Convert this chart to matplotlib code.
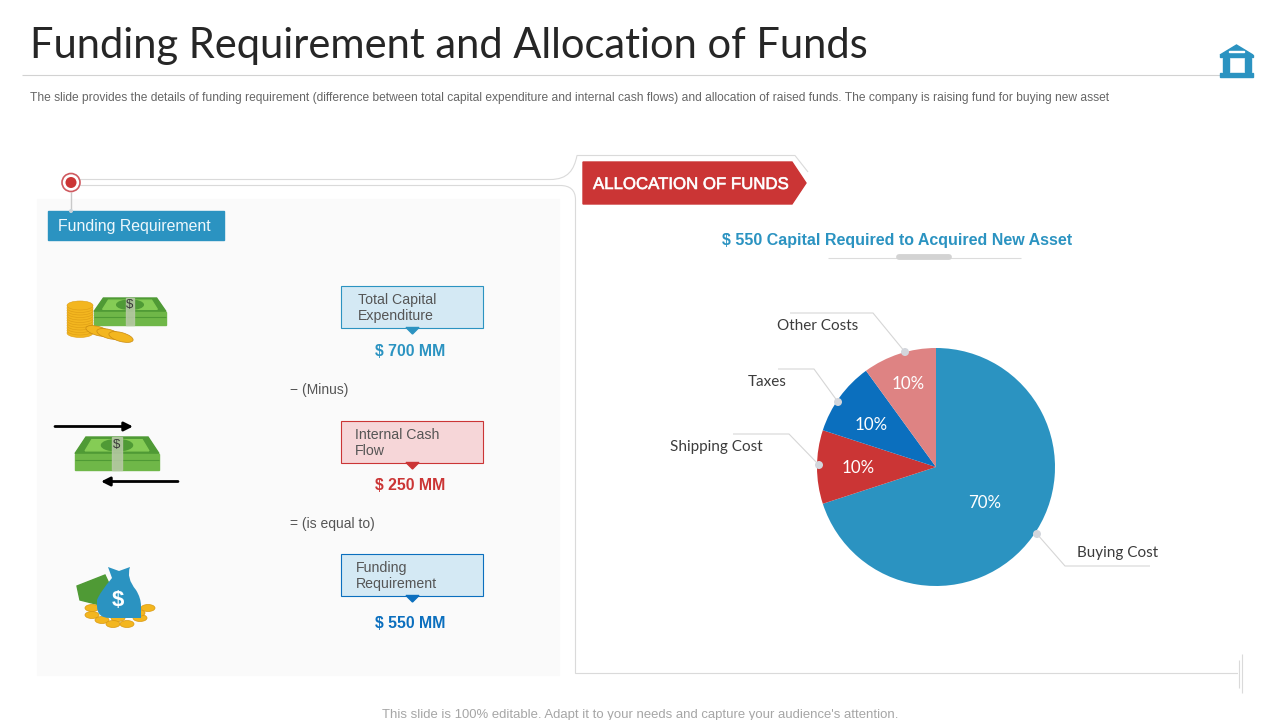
import numpy as np
import matplotlib
matplotlib.use('Agg')
import matplotlib.pyplot as plt
import matplotlib.patheffects as pe
from matplotlib.patches import Rectangle, Polygon, Circle, Ellipse, PathPatch
from matplotlib.path import Path

# data
slice_names = ['Buying Cost', 'Shipping Cost', 'Taxes', 'Other Costs']
slice_values = [70, 10, 10, 10]
slice_colors = ['#2b93c1', '#cb3535', '#0b6fbe', '#de8383']
box_labels = ['Total Capital\nExpenditure', 'Internal Cash\nFlow', 'Funding\nRequirement']
box_amounts = ['$ 700 MM', '$ 250 MM', '$ 550 MM']
operators = ['− (Minus)', '= (is equal to)']

BLUE = '#2b93c1'
RED = '#cb3535'
GRAY = '#dadada'
ARIAL = 'Liberation Sans'
LATO = 'Lato'

fig = plt.figure(figsize=(12.8, 7.2), dpi=100, facecolor='white')

# pie in its own axes, centre 936,467 radius 119 px
pie_ax = fig.add_axes([(936 - 119) / 1280, (720 - 467 - 119) / 720, 238 / 1280, 238 / 720], zorder=1)
wedges, _, pcts = pie_ax.pie(slice_values, colors=slice_colors, startangle=90, counterclock=False,
                             radius=1, autopct='%d%%', pctdistance=0.5,
                             wedgeprops={'linewidth': 0},
                             textprops={'color': 'white', 'fontsize': 12.2, 'family': LATO})
pie_ax.set_xlim(-1, 1)
pie_ax.set_ylim(-1, 1)
# small slices have their labels further out
for t, k, dy in zip(pcts, [1.0, 1.31, 1.34, 1.5], [-0.01, -0.01, -0.04, -0.02]):
    x, y = t.get_position()
    t.set_position((x * k, y * k + dy))

# overlay in pixel coords
ax = fig.add_axes([0, 0, 1, 1], zorder=2)
ax.set_xlim(0, 1280)
ax.set_ylim(720, 0)
ax.axis('off')
ax.patch.set_visible(False)


def line(xs, ys, c=GRAY, lw=0.8, z=2):
    ax.plot(xs, ys, color=c, lw=lw, zorder=z, solid_capstyle='butt')


# header
ax.text(30, 46, 'Funding Requirement and Allocation of Funds', fontsize=30, family=LATO,
        color='#262626', va='center', ha='left')
line([22, 1220], [75, 75], c='#d2d2d2')
ax.text(30, 98, 'The slide provides the details of funding requirement (difference between total capital '
        'expenditure and internal cash flows) and allocation of raised funds. The company is raising fund '
        'for buying new asset', fontsize=8.67, family=ARIAL, color='#666666', va='center')

# bank icon
ax.add_patch(Polygon([[1220, 55], [1236.5, 45], [1253, 55]], color=BLUE, zorder=3))
ax.add_patch(Rectangle((1220, 55), 33, 1.5, color=BLUE, zorder=3))
ax.add_patch(Rectangle((1229, 50.5), 15, 1.3, color='white', zorder=4))
ax.add_patch(Rectangle((1223, 58), 5.5, 14, color=BLUE, zorder=3))
ax.add_patch(Rectangle((1245, 58), 5.5, 14, color=BLUE, zorder=3))
ax.add_patch(Rectangle((1220, 73), 33, 4, color=BLUE, zorder=3))

# left panel
ax.add_patch(Rectangle((37, 199), 522, 476, color='#fafafa', zorder=0))

# connector lines
connector = Path([(78, 179.5), (550, 179.5), (568, 179.5), (574, 170), (577, 155.5), (795, 155.5), (808, 172)],
                 [Path.MOVETO, Path.LINETO, Path.CURVE4, Path.CURVE4, Path.CURVE4, Path.LINETO, Path.LINETO])
ax.add_patch(PathPatch(connector, fc='none', ec=GRAY, lw=0.8, zorder=1))
lower = Path([(78, 185.5), (560, 185.5), (570, 185.5), (575.5, 190), (575.5, 200), (575.5, 673.5), (1238, 673.5)],
             [Path.MOVETO, Path.LINETO, Path.CURVE4, Path.CURVE4, Path.CURVE4, Path.LINETO, Path.LINETO])
ax.add_patch(PathPatch(lower, fc='none', ec=GRAY, lw=0.8, zorder=1))
line([1238.5, 1238.5], [660, 688])
line([1242, 1242], [654, 693])

# red target marker
ax.add_patch(Circle((71, 182.5), 9, fc='white', ec='#cf5a60', lw=1.2, zorder=3))
ax.add_patch(Circle((71, 182.5), 5.5, fc=RED, ec='none', zorder=4))
line([71, 71], [192, 211], c='#c9c9c9', lw=1)
ax.add_patch(Circle((71, 211), 2, fc='#c9d3da', ec='none', zorder=4))

# heading tags
ax.add_patch(Rectangle((48, 211), 176, 29, color=BLUE, zorder=3))
ax.text(58, 227, 'Funding Requirement', fontsize=11.4, family=ARIAL, color='#eef8fc', va='center', zorder=4)
ax.add_patch(Polygon([[583, 162], [792, 162], [806, 183], [792, 204], [583, 204]], color=RED, zorder=3))
ax.text(593, 184.5, 'ALLOCATION OF FUNDS', fontsize=12.1, family=ARIAL, color='white', va='center', zorder=4,
        path_effects=[pe.withStroke(linewidth=0.5, foreground='#f3e3e3')])

# subtitle on right
ax.text(897.5, 240, '$ 550 Capital Required to Acquired New Asset', fontsize=11.55, family=ARIAL,
        fontweight='bold', color=BLUE, ha='center', va='center')
line([828, 1021], [257.5, 257.5], c='#dcdcdc')
ax.plot([899, 949], [257, 257], color='#d3d3d3', lw=4.2, solid_capstyle='round', zorder=3)

# value boxes
box_y = [286, 421, 554]
box_fc = ['#d4e9f4', '#f6d6d8', '#d4e9f4']
box_ec = [BLUE, RED, '#0b6fbe']
text_x = [358, 355, 356]
amount_y = [352, 486, 623]
amount_c = [BLUE, RED, '#0b6fbe']
for i in range(3):
    y = box_y[i]
    ax.add_patch(Rectangle((341, y), 142, 41.5, fc=box_fc[i], ec=box_ec[i], lw=0.8, zorder=3))
    ax.add_patch(Polygon([[406, y + 41.5], [419, y + 41.5], [412.5, y + 48]], color=box_ec[i], zorder=4))
    ax.text(text_x[i], y + 22, box_labels[i], fontsize=10.2, family=ARIAL, color='#555555',
            va='center', linespacing=1.27, zorder=4)
    ax.text(410.5, amount_y[i], box_amounts[i], fontsize=11.4, family=ARIAL, fontweight='bold',
            color=amount_c[i], ha='center', va='center')
ax.text(290, 390, operators[0], fontsize=10, family=ARIAL, color='#555555', va='center')
ax.text(290, 524, operators[1], fontsize=10, family=ARIAL, color='#555555', va='center')


# money stack icon
def cash(x0, y0, w, h):
    ax.add_patch(Polygon([[x0 + 0.13 * w, y0], [x0 + 0.87 * w, y0], [x0 + w, y0 + 0.5 * h], [x0, y0 + 0.5 * h]],
                         color='#4f9a35', zorder=3))
    ax.add_patch(Polygon([[x0 + 0.2 * w, y0 + 0.08 * h], [x0 + 0.8 * w, y0 + 0.08 * h],
                          [x0 + 0.88 * w, y0 + 0.42 * h], [x0 + 0.12 * w, y0 + 0.42 * h]],
                         color='#85cc55', zorder=3))
    ax.add_patch(Ellipse((x0 + 0.5 * w, y0 + 0.25 * h), 0.37 * w, 0.34 * h, color='#4f9a35', zorder=3))
    ax.add_patch(Rectangle((x0, y0 + 0.5 * h), w, 0.5 * h, color='#6fb748', zorder=3))
    line([x0, x0 + w], [y0 + 0.7 * h, y0 + 0.7 * h], c='#4f9a35', lw=0.8, z=4)
    ax.add_patch(Rectangle((x0 + 0.44 * w, y0), 0.12 * w, h, color='#b9c9a8', alpha=0.85, zorder=4))
    ax.text(x0 + 0.5 * w, y0 + 0.25 * h, '$', fontsize=9.5, family=ARIAL, color='#3a3a3a',
            ha='center', va='center', zorder=5)


cash(94, 298, 72, 27)
cash(75, 437, 84, 33)

# coin stack
for yy in np.arange(333, 304, -2.5):
    ax.add_patch(Ellipse((80, yy), 26, 9, fc='#f3b61f', ec='#dc9c14', lw=0.4, zorder=5))
for xx, yy in [(98, 331), (109, 334), (121, 337)]:
    ax.add_patch(Ellipse((xx, yy), 25, 9, angle=15, fc='#f3b61f', ec='#c98a10', lw=0.5, zorder=5))

# flow arrows
ax.annotate('', xy=(133, 426.5), xytext=(55, 426.5),
            arrowprops=dict(arrowstyle='-|>', color='black', lw=2, mutation_scale=13, shrinkA=0, shrinkB=0))
ax.annotate('', xy=(101, 481.5), xytext=(178, 481.5),
            arrowprops=dict(arrowstyle='-|>', color='black', lw=2, mutation_scale=13, shrinkA=0, shrinkB=0))

# money bag
ax.add_patch(Polygon([[77, 586], [105, 575], [112, 590], [100, 605], [80, 600]], color='#4f9a35', zorder=3))
for xx, yy in [(92, 608), (92, 615), (102, 620), (118, 618), (113, 624), (127, 624), (140, 618), (138, 613), (148, 608)]:
    ax.add_patch(Ellipse((xx, yy), 14, 7, fc='#f3b61f', ec='#d9980f', lw=0.5, zorder=4))
bag = Path([(112, 578), (100, 592), (97, 600), (97, 606), (97, 618), (110, 618), (119, 618), (128, 618), (141, 618),
            (141, 606), (141, 598), (136, 590), (126, 578), (130, 567), (119, 571), (108, 567), (112, 578)],
           [Path.MOVETO, Path.CURVE3, Path.CURVE3, Path.LINETO, Path.CURVE3, Path.CURVE3, Path.LINETO, Path.CURVE3,
            Path.CURVE3, Path.LINETO, Path.CURVE3, Path.CURVE3, Path.CURVE3, Path.LINETO, Path.LINETO, Path.LINETO,
            Path.LINETO])
ax.add_patch(PathPatch(bag, fc=BLUE, ec='none', zorder=5))
ax.text(118, 601, '$', fontsize=16, family=ARIAL, fontweight='bold', color='white',
        ha='center', va='center', zorder=6)

# pie leaders: dot on rim, elbow, then label
leader_x = [[1037, 1065, 1150], [819, 789, 733], [838, 814, 778], [905, 873, 790]]
leader_y = [[534, 566, 566], [465, 434, 434], [402, 369, 369], [352, 313, 313]]
label_x = [1077, 670, 748, 777]
label_y = [553, 447, 382, 326]
for i in range(4):
    line(leader_x[i], leader_y[i], c='#d6d6d6')
    ax.add_patch(Circle((leader_x[i][0], leader_y[i][0]), 4, fc='#d3d6dc', ec='none', zorder=5))
    ax.text(label_x[i], label_y[i], slice_names[i], fontsize=11, family=LATO, color='#3c3c3c', va='center')

# footer
ax.text(640, 715, "This slide is 100% editable. Adapt it to your needs and capture your audience's attention.",
        fontsize=9.45, family=ARIAL, color='#a6a6a6', ha='center', va='center')

fig.savefig('out.png', dpi=100)
